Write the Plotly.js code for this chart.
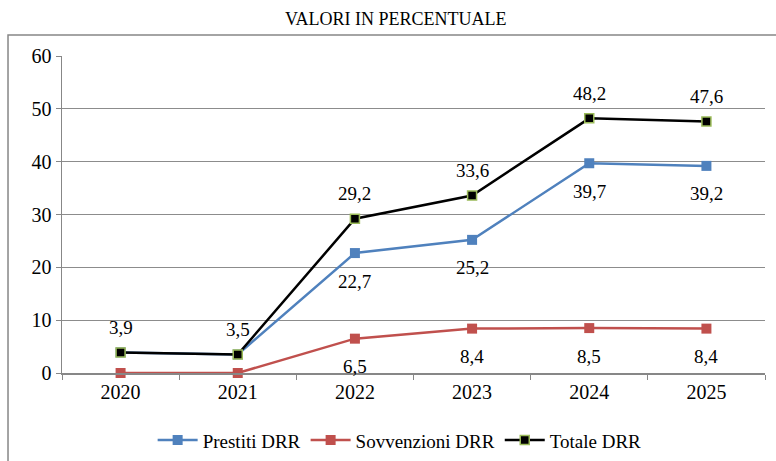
<!DOCTYPE html>
<html>
<head>
<meta charset="utf-8">
<script src="https://cdn.plot.ly/plotly-3.0.1.min.js"></script>
<style>
  html, body { margin: 0; padding: 0; background: #fff; }
  #myDiv { width: 776px; height: 461px; }
</style>
</head>
<body>
<div id="myDiv"></div>
<script>
var years = ['2020', '2021', '2022', '2023', '2024', '2025'];

var prestiti = [3.9, 3.5, 22.7, 25.2, 39.7, 39.2];
var sovvenzioni = [0, 0, 6.5, 8.4, 8.5, 8.4];
var totale = [3.9, 3.5, 29.2, 33.6, 48.2, 47.6];

// which points carry a value label in the original
var showPrestiti = [false, false, true, true, true, true];
var showSovvenzioni = [false, false, true, true, true, true];
var showTotale = [true, true, true, true, true, true];

var serif = '"Times New Roman", "Liberation Serif", "DejaVu Serif", serif';

function fmt(v) {
  return v.toFixed(1).replace('.', ',');
}

// value labels as annotations so the gap to the marker can be set
// (x is the category index: a numeric-looking string would be read as an index)
var annotations = [];
function addLabels(vals, show, shift) {
  vals.forEach(function (v, i) {
    if (!show[i]) return;
    annotations.push({
      x: i, y: v, xref: 'x', yref: 'y',
      text: fmt(v), showarrow: false, yshift: shift,
      font: {family: serif, size: 19, color: '#000'}
    });
  });
}
addLabels(prestiti, showPrestiti, -28);
addLabels(sovvenzioni, showSovvenzioni, -28);
addLabels(totale, showTotale, 25);

var data = [
  {
    type: 'scatter', mode: 'lines+markers', name: 'Prestiti DRR',
    x: years, y: prestiti,
    line: {color: '#4F81BD', width: 2.5},
    marker: {symbol: 'square', size: 10, color: '#4F81BD'},
    cliponaxis: false
  },
  {
    type: 'scatter', mode: 'lines+markers', name: 'Sovvenzioni DRR',
    x: years, y: sovvenzioni,
    line: {color: '#C0504D', width: 2.5},
    marker: {symbol: 'square', size: 10, color: '#C0504D'},
    cliponaxis: false
  },
  {
    type: 'scatter', mode: 'lines+markers', name: 'Totale DRR',
    x: years, y: totale,
    line: {color: '#000000', width: 2.5},
    marker: {symbol: 'square', size: 9, color: '#000000', line: {color: '#9BBB59', width: 1.5}},
    cliponaxis: false
  }
];

var layout = {
  width: 776, height: 461,
  margin: {l: 62, r: 11, t: 56, b: 88},
  paper_bgcolor: '#fff', plot_bgcolor: '#fff',
  font: {family: serif, size: 18, color: '#000'},
  title: {
    text: 'VALORI IN PERCENTUALE',
    font: {family: serif, size: 18, color: '#000'},
    xref: 'container', x: 0.51, xanchor: 'center',
    yref: 'container', y: 0.96, yanchor: 'middle'
  },
  xaxis: {
    type: 'category', tickson: 'boundaries',
    range: [-0.5, 5.5],
    ticks: 'outside', ticklen: 5, tickcolor: '#878787',
    showline: true, linecolor: '#878787', linewidth: 1.5,
    showgrid: false, zeroline: false,
    tickfont: {family: serif, size: 20, color: '#000'},
    fixedrange: true
  },
  yaxis: {
    range: [0, 60], dtick: 10,
    ticks: 'outside', ticklen: 5, tickcolor: '#878787',
    showline: true, linecolor: '#878787', linewidth: 1.5,
    showgrid: true, gridcolor: '#8c8c8c', gridwidth: 1,
    zeroline: false,
    tickfont: {family: serif, size: 20, color: '#000'},
    fixedrange: true
  },
  showlegend: true,
  legend: {
    orientation: 'h', xref: 'container', yref: 'container',
    x: 0.515, xanchor: 'center', y: 0.045, yanchor: 'middle',
    font: {family: serif, size: 19, color: '#000'},
    itemwidth: 40, tracegroupgap: 0,
    bgcolor: 'rgba(0,0,0,0)'
  },
  annotations: annotations,
  shapes: [
    {
      type: 'rect', xref: 'paper', yref: 'paper',
      x0: -0.0768, x1: 1.03, y0: -0.3, y1: 1.066,
      line: {color: '#878787', width: 1.5},
      fillcolor: 'rgba(0,0,0,0)', layer: 'below'
    }
  ]
};

Plotly.newPlot('myDiv', data, layout, {displayModeBar: false, staticPlot: true});
</script>
</body>
</html>
